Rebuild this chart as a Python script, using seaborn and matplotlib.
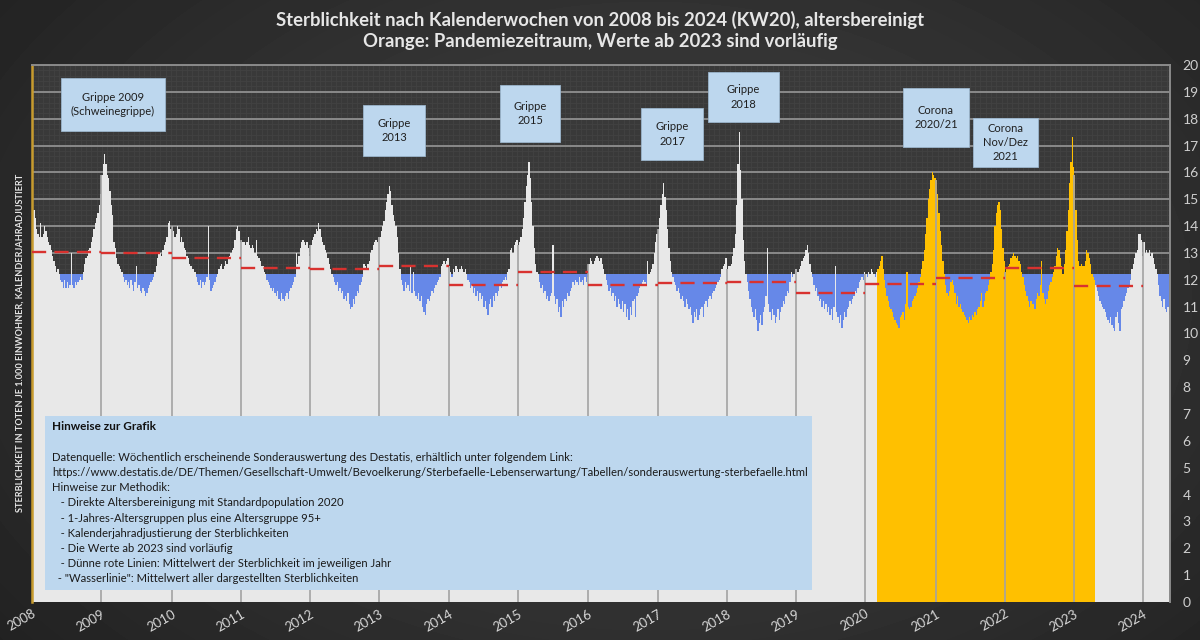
import numpy as np
import pandas as pd
import matplotlib
matplotlib.use("Agg")
import matplotlib.pyplot as plt
from matplotlib.patches import Rectangle
from matplotlib.ticker import MultipleLocator
import seaborn as sns

# ─────────────────────────────────────────
# DATA  (weekly age-adjusted mortality per 1.000)
# ─────────────────────────────────────────
v2008 = [14.9, 14.6, 14.3, 13.9, 13.7, 13.6, 14.1, 13.6, 13.7, 14.0,
         13.8, 13.6, 13.4, 13.3, 13.1, 12.9, 12.7, 12.5, 12.3, 12.4,
         12.2, 12.0, 11.9, 11.7, 12.0, 11.7, 11.9, 11.7, 11.8, 13.0,
         11.8, 11.7, 11.9, 11.8, 11.9, 12.0, 12.1, 12.0, 12.3, 12.6,
         12.8, 12.9, 13.1, 13.2, 13.4, 13.6, 13.9, 14.1, 14.3, 14.5,
         14.8, 15.2]
v2009 = [15.9, 16.3, 16.7, 16.3, 15.9, 15.8, 15.3, 14.8, 14.4, 13.4,
         13.2, 12.8, 12.6, 12.5, 12.4, 12.3, 12.1, 11.9, 12.0, 11.8,
         11.9, 11.7, 12.0, 11.8, 11.6, 11.9, 12.5, 11.7, 11.8, 11.6,
         11.5, 11.7, 11.6, 11.4, 11.5, 11.7, 11.8, 11.9, 12.0, 12.1,
         12.3, 12.5, 12.8, 13.0, 13.0, 12.9, 13.1, 13.3, 13.4, 13.6,
         14.1, 14.2, 13.9]
v2010 = [14.0, 13.8, 13.6, 13.7, 14.0, 13.9, 13.4, 13.6, 13.4, 13.2,
         13.1, 12.9, 12.8, 12.6, 12.5, 12.4, 12.4, 12.3, 12.1, 11.9,
         11.8, 12.0, 11.7, 11.9, 11.8, 11.9, 12.1, 14.0, 12.0, 11.6,
         11.7, 11.8, 11.9, 12.1, 12.2, 12.4, 12.5, 12.6, 12.4, 12.5,
         12.7, 12.6, 12.8, 12.9, 13.0, 13.1, 13.2, 13.5, 13.9, 14.0,
         13.8, 13.4]
v2011 = [13.5, 13.4, 13.4, 13.3, 13.4, 13.6, 13.3, 13.2, 13.3, 13.2,
         13.0, 13.5, 12.9, 12.8, 12.7, 12.5, 12.5, 12.3, 12.2, 12.0,
         11.9, 11.8, 11.7, 11.6, 11.7, 11.5, 11.4, 11.6, 11.3, 11.2,
         11.5, 11.3, 11.2, 11.4, 11.5, 11.3, 11.6, 11.7, 11.8, 11.9,
         12.1, 13.0, 12.6, 12.9, 13.2, 13.4, 13.5, 13.4, 13.3, 13.4,
         13.2, 12.9]
v2012 = [13.3, 13.5, 13.6, 13.7, 13.9, 13.8, 14.1, 13.9, 13.6, 13.4,
         13.3, 13.1, 13.0, 12.8, 12.6, 12.4, 12.2, 12.1, 11.9, 11.8,
         11.9, 11.6, 11.7, 11.5, 11.6, 11.3, 11.4, 11.2, 11.5, 11.1,
         10.9, 11.0, 11.3, 11.1, 11.4, 11.6, 11.5, 11.8, 11.9, 12.1,
         12.6, 12.5, 12.4, 12.6, 12.7, 13.0, 13.1, 13.3, 13.4, 13.5,
         13.4, 13.6]
v2013 = [13.6, 13.8, 14.0, 14.2, 14.6, 14.9, 15.2, 15.5, 15.3, 14.8,
         14.4, 14.2, 14.0, 13.6, 13.0, 12.4, 12.0, 11.8, 11.6, 11.9,
         11.7, 11.8, 11.6, 12.5, 11.5, 12.3, 11.6, 11.4, 11.3, 11.5,
         11.2, 11.4, 11.0, 10.8, 10.7, 11.1, 11.3, 11.2, 11.4, 11.6,
         11.5, 11.7, 11.8, 11.9, 12.0, 12.1, 12.5, 12.6, 12.7, 12.6,
         12.7, 12.8]
v2014 = [12.5, 12.3, 12.1, 12.4, 12.3, 12.5, 12.4, 12.3, 12.4, 12.5,
         12.4, 12.3, 12.4, 12.2, 12.0, 11.9, 11.7, 11.8, 11.5, 11.7,
         11.4, 11.6, 11.2, 11.5, 11.3, 11.4, 11.0, 11.2, 10.9, 10.7,
         11.1, 11.3, 11.0, 11.4, 11.2, 11.5, 11.4, 11.6, 11.8, 11.7,
         11.9, 12.0, 12.1, 12.0, 12.3, 12.4, 13.1, 13.2, 13.0, 13.3,
         13.4, 13.5]
v2015 = [13.3, 13.4, 13.6, 13.9, 14.3, 14.9, 15.5, 15.9, 16.4, 15.8,
         14.9, 14.0, 13.2, 12.6, 12.3, 12.2, 11.9, 11.7, 11.8, 11.5,
         11.6, 11.3, 11.4, 11.2, 11.4, 11.5, 13.3, 11.4, 11.1, 11.3,
         10.8, 11.0, 10.6, 11.2, 11.0, 11.3, 11.2, 11.5, 11.4, 11.6,
         11.7, 11.9, 11.8, 12.0, 11.9, 11.8, 12.1, 11.9, 12.0, 11.8,
         12.1, 11.9, 12.1]
v2016 = [12.6, 12.8, 12.7, 12.6, 12.7, 12.8, 12.9, 12.8, 12.7, 12.8,
         12.6, 12.4, 12.2, 12.0, 11.8, 11.6, 11.7, 11.4, 11.5, 11.2,
         11.4, 11.0, 11.3, 11.1, 10.9, 11.2, 10.8, 11.1, 10.6, 10.9,
         10.5, 11.0, 10.7, 11.2, 11.3, 10.6, 11.4, 11.5, 11.7, 11.8,
         11.9, 12.0, 11.9, 11.8, 12.7, 12.2, 12.3, 12.4, 12.6, 13.0,
         13.4, 13.7]
v2017 = [13.9, 14.3, 14.8, 15.2, 15.6, 15.1, 14.6, 13.9, 13.2, 12.7,
         12.3, 12.1, 11.9, 11.8, 11.6, 11.7, 11.5, 11.3, 11.4, 11.2,
         11.0, 11.3, 11.1, 10.9, 11.0, 10.7, 10.4, 10.8, 10.6, 10.9,
         10.5, 10.7, 10.9, 11.0, 10.6, 11.1, 11.2, 11.0, 11.3, 11.4,
         11.3, 11.5, 11.6, 11.7, 11.8, 11.9, 12.0, 12.1, 12.4, 12.5,
         12.6, 12.8]
v2018 = [12.4, 12.5, 12.5, 12.6, 12.9, 13.2, 13.7, 14.8, 16.3, 17.5,
         16.1, 15.0, 13.5, 12.7, 12.2, 11.9, 11.6, 11.3, 11.0, 10.8,
         10.6, 10.9, 10.5, 10.1, 10.4, 10.7, 10.3, 10.8, 11.0, 11.4,
         13.2, 11.1, 10.8, 10.5, 10.9, 10.7, 10.4, 10.6, 10.9, 10.5,
         10.8, 11.0, 11.2, 11.1, 11.4, 11.6, 11.5, 11.9, 12.3, 12.1,
         12.2, 12.4]
v2019 = [12.4, 12.3, 12.4, 12.5, 12.7, 12.8, 12.9, 13.1, 13.3, 13.0,
         12.6, 12.3, 12.1, 11.8, 11.6, 11.7, 11.4, 11.2, 11.3, 11.0,
         11.2, 10.9, 11.1, 10.8, 11.0, 10.7, 10.9, 10.5, 11.0, 12.5,
         10.8, 10.6, 10.4, 10.7, 10.2, 10.5, 10.8, 10.6, 10.9, 11.0,
         11.2, 11.1, 11.3, 11.4, 11.6, 11.5, 11.7, 11.9, 12.0, 12.1,
         12.0, 12.3]
v2020 = [12.2, 12.1, 12.3, 12.2, 12.4, 12.3, 12.2, 12.1, 12.3, 12.4,
         12.5, 12.7, 12.9, 12.4, 12.0, 11.7, 11.4, 11.2, 11.0, 10.9,
         10.8, 10.6, 10.5, 10.4, 10.3, 10.2, 10.6, 10.7, 10.8, 10.5,
         11.1, 12.3, 11.0, 10.9, 11.0, 11.2, 11.3, 11.4, 11.5, 11.7,
         11.9, 12.1, 12.4, 12.7, 13.1, 13.7, 14.3, 15.0, 15.4, 15.7,
         16.0, 15.9, 15.8]
v2021 = [15.7, 15.2, 14.5, 13.8, 13.3, 12.7, 12.2, 11.8, 11.5, 11.4,
         11.6, 11.9, 12.0, 11.8, 11.5, 11.1, 11.4, 11.0, 11.1, 10.9,
         10.8, 10.7, 10.6, 10.5, 10.4, 10.6, 10.5, 10.7, 10.6, 10.8,
         10.7, 10.9, 11.0, 11.2, 11.5, 11.0, 11.2, 11.5, 11.6, 11.8,
         12.0, 12.3, 12.6, 13.1, 14.0, 14.5, 14.8, 14.9, 14.6, 13.9,
         13.2, 12.7]
v2022 = [12.3, 12.4, 12.5, 12.6, 12.8, 12.9, 13.0, 12.9, 12.8, 12.9,
         12.7, 12.6, 12.3, 12.1, 11.8, 11.6, 11.4, 11.2, 11.0, 11.2,
         11.1, 11.1, 10.9, 11.3, 11.5, 11.4, 11.8, 12.7, 11.5, 11.3,
         11.1, 11.3, 11.6, 11.8, 11.9, 12.1, 12.3, 12.5, 12.9, 13.2,
         13.1, 12.8, 12.5, 12.2, 12.6, 13.1, 13.8, 14.6, 15.6, 16.4,
         17.3, 16.2]
v2023 = [15.9, 14.6, 13.5, 12.7, 12.5, 12.6, 12.5, 12.5, 12.7, 13.1,
         13.0, 12.8, 12.6, 12.2, 12.1, 12.0, 11.8, 11.6, 11.4, 11.2,
         11.1, 11.0, 10.9, 10.8, 10.6, 10.5, 10.4, 10.6, 10.3, 10.2,
         10.1, 10.6, 10.8, 10.4, 10.1, 10.9, 11.0, 11.2, 11.4, 11.5,
         11.7, 11.8, 12.0, 12.4, 12.6, 12.8, 13.0, 13.1, 13.7, 13.7,
         13.5, 12.9]
v2024 = [13.4, 13.0, 13.1, 13.0, 13.1, 12.9, 13.0, 12.8, 12.6, 12.4,
         12.2, 11.8, 11.4, 11.2, 11.0, 11.3, 10.9, 10.8, 11.0, 10.7]

YEARS = list(range(2008, 2025))
WEEKLY = [v2008, v2009, v2010, v2011, v2012, v2013, v2014, v2015, v2016,
          v2017, v2018, v2019, v2020, v2021, v2022, v2023, v2024]

# yearly means (thin red lines), 2008..2023
MEAN_YEARS = list(range(2008, 2024))
YEAR_MEANS = [13.05, 13.0, 12.8, 12.45, 12.4, 12.5, 11.8, 12.3,
              11.8, 11.87, 11.9, 11.5, 11.85, 12.08, 12.43, 11.77]

WATERLINE = 12.2                      # mean of all values ("Wasserlinie")
PANDEMIC = ((2020, 10), (2023, 16))   # first / last pandemic week

TITLE = ("Sterblichkeit nach Kalenderwochen von 2008 bis 2024 (KW20), altersbereinigt\n"
         "Orange: Pandemiezeitraum, Werte ab 2023 sind vorläufig")
YLABEL = "STERBLICHKEIT IN TOTEN JE 1.000 EINWOHNER, KALENDERJAHRADJUSTIERT"

# callout boxes: (left, top, right, bottom) in pixels, text
CALLOUTS = [
    (61, 78, 165, 131, "Grippe 2009\n(Schweinegrippe)"),
    (363, 105, 425, 156, "Grippe\n2013"),
    (500, 85, 560, 142, "Grippe\n2015"),
    (641, 108, 703, 160, "Grippe\n2017"),
    (708, 72, 779, 122, "Grippe\n2018"),
    (903, 88, 969, 147, "Corona\n2020/21"),
    (973, 118, 1038, 167, "Corona\nNov/Dez\n2021"),
]

NOTES_TITLE = "Hinweise zur Grafik"
NOTES = [
    "",
    "Datenquelle: Wöchentlich erscheinende Sonderauswertung des Destatis, erhältlich unter folgendem Link:",
    "https://www.destatis.de/DE/Themen/Gesellschaft-Umwelt/Bevoelkerung/Sterbefaelle-Lebenserwartung/Tabellen/sonderauswertung-sterbefaelle.html",
    "Hinweise zur Methodik:",
    "   - Direkte Altersbereinigung mit Standardpopulation 2020",
    "   - 1-Jahres-Altersgruppen plus eine Altersgruppe 95+",
    "   - Kalenderjahradjustierung der Sterblichkeiten",
    "   - Die Werte ab 2023 sind vorläufig",
    "   - Dünne rote Linien: Mittelwert der Sterblichkeit im jeweiligen Jahr",
    "  - \"Wasserlinie\": Mittelwert aller dargestellten Sterblichkeiten",
]

# ─────────────────────────────────────────
# BUILD TABLE
# ─────────────────────────────────────────
rows, year_start = [], {}
pos = 0
for year, vals in zip(YEARS, WEEKLY):
    year_start[year] = pos
    for week, v in enumerate(vals, start=1):
        pandemic = PANDEMIC[0] <= (year, week) <= PANDEMIC[1]
        rows.append({"pos": pos, "year": year, "week": week, "value": v,
                     "period": "pandemie" if pandemic else "normal"})
        pos += 1
df = pd.DataFrame(rows)
n_weeks = len(df)

# ─────────────────────────────────────────
# FIGURE
# ─────────────────────────────────────────
sns.set_theme(style="dark")
plt.rcParams["font.family"] = ["Lato", "DejaVu Sans"]

W, H = 1200, 640
fig = plt.figure(figsize=(12, 6.4), dpi=100)
fig.patch.set_facecolor("#2e2e2e")


def fx(px):
    return px / W


def fy(py):
    return 1 - py / H


# dark radial background, lighter towards the middle
bg = fig.add_axes([0, 0, 1, 1], zorder=-5)
gy, gx = np.mgrid[0:H, 0:W]
dist = np.sqrt(((gx - 650) / 720) ** 2 + ((gy - 300) / 480) ** 2)
shade = np.clip(0.27 - 0.12 * dist, 0.13, 0.3)
bg.imshow(shade, cmap="gray", vmin=0, vmax=1, aspect="auto",
          extent=(0, W, H, 0), interpolation="bilinear")
bg.set_axis_off()

ax = fig.add_axes([fx(32), 1 - 602 / H, 1138 / W, 537 / H])
ax.set_facecolor("#393939")

# "Wasserlinie": blue water below the mean line
ax.axhspan(0, WATERLINE, color="#6688e8", lw=0, zorder=0.8)

sns.barplot(data=df, x="pos", y="value", hue="period",
            palette={"normal": "#e8e8e8", "pandemie": "#ffc000"},
            saturation=1, native_scale=True, width=1.0, dodge=False,
            legend=False, errorbar=None, linewidth=0, antialiased=False,
            zorder=2, ax=ax)

# year separators inside the bars
sep_x = [year_start[y] - 0.5 for y in YEARS[1:]]
sep_h = [df.loc[year_start[y], "value"] for y in YEARS[1:]]
ax.vlines(sep_x, 0, sep_h, colors="#a3a3a3", lw=1.2, zorder=3)

# yearly means
for year, m in zip(MEAN_YEARS, YEAR_MEANS):
    x0 = year_start[year] - 0.5
    x1 = x0 + len(WEEKLY[YEARS.index(year)])
    ax.hlines(m, x0, x1, colors="#d8322f", lw=1.7,
              linestyles=(0, (6, 3.5)), zorder=4)

ax.set_xlim(-0.5, n_weeks - 0.5)
ax.set_ylim(0, 20)

# grids
ax.set_axisbelow(True)
ax.yaxis.set_major_locator(MultipleLocator(1))
ax.yaxis.set_minor_locator(MultipleLocator(0.2))
ax.xaxis.set_minor_locator(MultipleLocator(4))
ax.grid(False)
ax.yaxis.grid(True, which="major", color="#8a8a8a", lw=1.4)
ax.grid(True, which="minor", color="#424242", lw=0.6)

# ticks
ax.yaxis.tick_right()
ax.set_yticks(range(0, 21))
ax.set_yticklabels([str(i) for i in range(0, 21)])
ax.tick_params(axis="y", which="both", length=0, pad=9, labelcolor="#cfcfcf",
               labelsize=10)
ax.set_xticks([year_start[y] - 0.5 for y in YEARS])
ax.set_xticklabels([str(y) for y in YEARS], rotation=30, ha="right",
                   rotation_mode="anchor")
ax.tick_params(axis="x", which="both", length=0, pad=4, labelcolor="#d8d8d8",
               labelsize=9.5)
ax.set_xlabel("")
ax.set_ylabel("")

for side in ["top", "right"]:
    ax.spines[side].set_visible(True)
    ax.spines[side].set_color("#8a8a8a")
    ax.spines[side].set_linewidth(1.4)
ax.spines["left"].set_visible(True)
ax.spines["left"].set_color("#c79b2e")
ax.spines["left"].set_linewidth(1.8)
ax.spines["bottom"].set_visible(False)

# titles
for i, line in enumerate(TITLE.split("\n")):
    fig.text(fx(600), fy(20 + 22 * i), line, ha="center", va="center",
             color="#e6e6e6", fontsize=13.3, fontweight="bold")

fig.text(fx(20), fy(343), YLABEL, rotation=90, ha="center", va="center",
         color="#e6e6e6", fontsize=6.6, fontweight="bold")

# callouts
for x0, y0, x1, y1, label in CALLOUTS:
    fig.patches.append(Rectangle((fx(x0), fy(y1)), fx(x1 - x0), (y1 - y0) / H,
                                 transform=fig.transFigure, facecolor="#bdd7ee",
                                 edgecolor="#9bb5cc", lw=0.6, zorder=5))
    fig.text(fx((x0 + x1) / 2), fy((y0 + y1) / 2), label, ha="center",
             va="center", color="#1f1f1f", fontsize=8, linespacing=1.35,
             zorder=6)

# notes box
fig.patches.append(Rectangle((fx(45), fy(590)), fx(812 - 45), (590 - 416) / H,
                             transform=fig.transFigure, facecolor="#bdd7ee",
                             edgecolor="none", zorder=5))
fig.text(fx(52), fy(427), NOTES_TITLE, ha="left", va="center",
         color="#111111", fontsize=8.5, fontweight="bold", zorder=6)
for i, line in enumerate(NOTES):
    fig.text(fx(52), fy(442 + 15.2 * i), line, ha="left", va="center",
             color="#1a1a1a", fontsize=8.1, zorder=6)

fig.savefig("out.png", dpi=100, facecolor=fig.get_facecolor())
